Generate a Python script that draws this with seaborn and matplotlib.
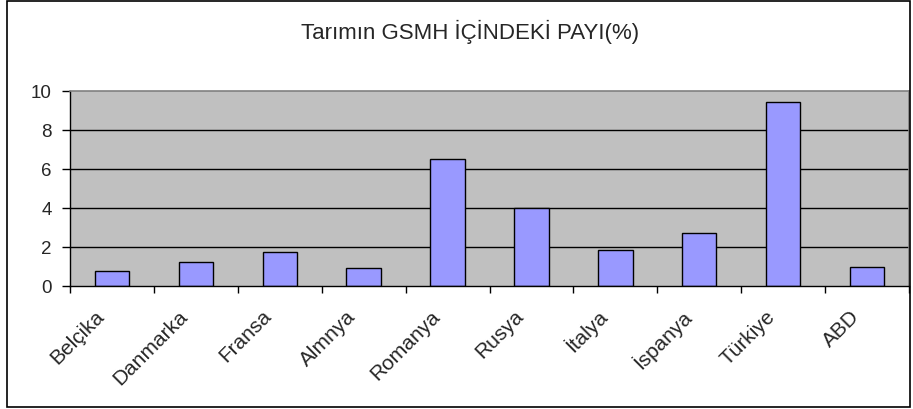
import numpy as np
import pandas as pd
import matplotlib
matplotlib.use("Agg")
import matplotlib.pyplot as plt
import matplotlib.transforms as mtransforms
import seaborn as sns
from matplotlib.patches import Rectangle
from matplotlib.ticker import FixedLocator

countries = ["Belçika", "Danmarka", "Fransa", "Almnya", "Romanya",
             "Rusya", "İtalya", "İspanya", "Türkiye", "ABD"]
shares = [0.75, 1.25, 1.73, 0.92, 6.5, 4.0, 1.86, 2.7, 9.45, 0.99]
y_ticks = [0, 2, 4, 6, 8, 10]
title = "Tarımın GSMH İÇİNDEKİ PAYI(%)"

sns.set_style("white")
plt.rcParams["font.family"] = ["Liberation Sans", "DejaVu Sans"]

df = pd.DataFrame({"country": countries, "share": shares})

fig = plt.figure(figsize=(9.13, 4.10), dpi=100)
ax = fig.add_axes([70 / 913, 1 - 287 / 410, (909 - 70) / 913, (287 - 92) / 410])
ax.set_facecolor("#C0C0C0")

# gridlines behind bars
for y in y_ticks[1:-1]:
    ax.axhline(y, color="black", linewidth=1.0, zorder=0.5)

sns.barplot(data=df, x="country", y="share", color="#9999FF", saturation=1,
            edgecolor="black", linewidth=1.0, width=0.41, ax=ax, zorder=2)

ax.set_xlim(-0.5, len(countries) - 0.5)
ax.set_ylim(0, 10)
ax.set_yticks(y_ticks)
ax.set_yticklabels([str(t) for t in y_ticks], fontsize=13.5)
ax.set_xlabel("")
ax.set_ylabel("")

ax.xaxis.set_minor_locator(FixedLocator(np.arange(-0.5, len(countries), 1.0)))
ax.tick_params(axis="x", which="major", length=0, pad=19)
ax.tick_params(axis="x", which="minor", length=5, width=1, color="black", direction="out", bottom=True)
ax.tick_params(axis="y", which="major", length=6, width=1, color="black", direction="out", left=True, pad=7)
ax.set_xticklabels(countries, rotation=45, ha="right", va="center",
                   rotation_mode="anchor", fontsize=15)
shift = mtransforms.ScaledTranslation(-11 / 100, 0, fig.dpi_scale_trans)
for lbl in ax.get_xticklabels():
    lbl.set_transform(lbl.get_transform() + shift)

for side in ["left", "bottom"]:
    ax.spines[side].set_color("black")
    ax.spines[side].set_linewidth(1.0)
for side in ["top", "right"]:
    ax.spines[side].set_color("#808080")
    ax.spines[side].set_linewidth(1.2)

fig.text(470 / 913, 1 - 39.5 / 410, title, ha="center", va="baseline", fontsize=16)

fig.patches.append(Rectangle((7 / 913, 2 / 410), 903 / 913, 406 / 410,
                             transform=fig.transFigure, fill=False,
                             edgecolor="black", linewidth=1.2))

fig.savefig("out.png", dpi=100)
